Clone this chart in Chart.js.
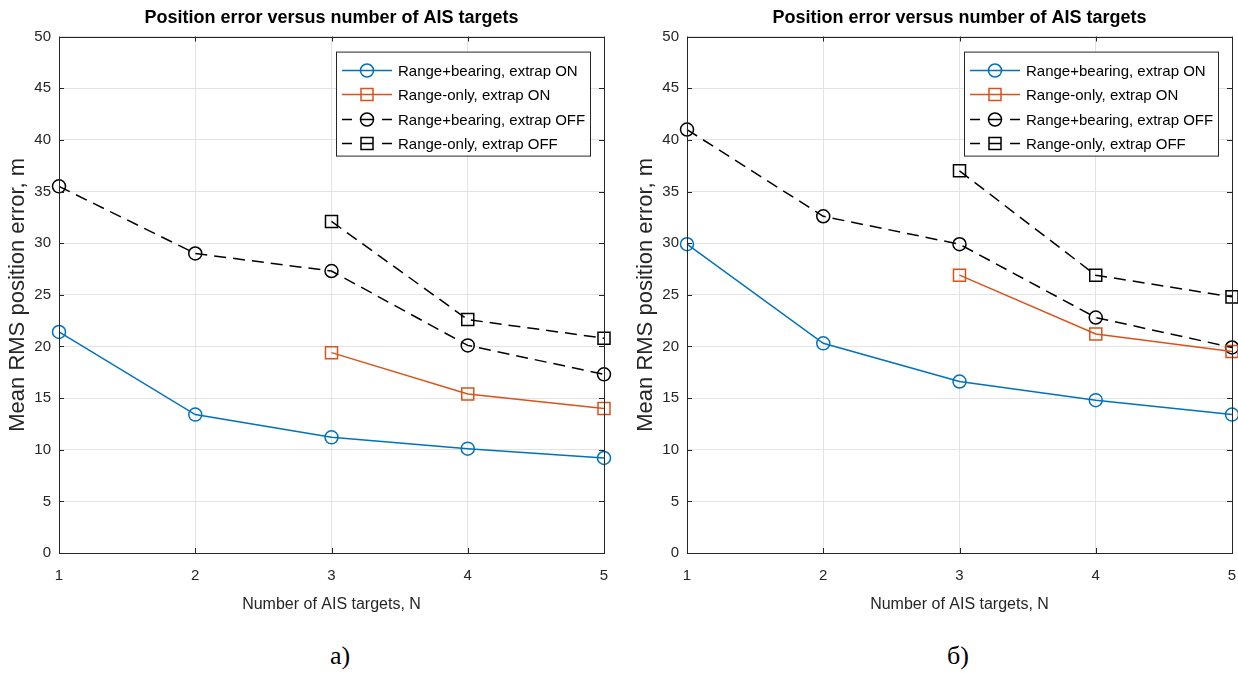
<!DOCTYPE html>
<html>
<head>
<meta charset="utf-8">
<script src="https://cdn.jsdelivr.net/npm/chart.js@4.4.1/dist/chart.umd.min.js"></script>
<style>
  html, body { margin: 0; padding: 0; background: #fff; }
  body { width: 1238px; height: 673px; position: relative; overflow: hidden; }
  .panel { position: absolute; top: 0; height: 630px; }
  .caption { position: absolute; top: 641px; font-family: "Liberation Serif", "Times New Roman", serif; font-size: 26px; color: #000; transform: translateX(-50%); }
</style>
</head>
<body>
<div class="panel" style="left:0; width:620px;"><canvas id="chartA"></canvas></div>
<div class="panel" style="left:628px; width:614px;"><canvas id="chartB"></canvas></div>
<div class="caption" style="left:340px;">a)</div>
<div class="caption" style="left:958px;">б)</div>
<script>
const nTargets = [1, 2, 3, 4, 5];
const seriesNames = [
  "Range+bearing, extrap ON",
  "Range-only, extrap ON",
  "Range+bearing, extrap OFF",
  "Range-only, extrap OFF"
];
const chartTitle = "Position error versus number of AIS targets";
const xTitle = "Number of AIS targets, N";
const yTitle = "Mean RMS position error, m";

// panel a)
const aRbOn  = [21.4, 13.4, 11.2, 10.1, 9.2];
const aRoOn  = [null, null, 19.4, 15.4, 14.0];
const aRbOff = [35.5, 29.0, 27.3, 20.1, 17.3];
const aRoOff = [null, null, 32.1, 22.6, 20.8];

// panel б)
const bRbOn  = [29.9, 20.3, 16.6, 14.8, 13.4];
const bRoOn  = [null, null, 26.9, 21.2, 19.5];
const bRbOff = [41.0, 32.6, 29.9, 22.8, 19.9];
const bRoOff = [null, null, 37.0, 26.9, 24.8];

const FONT = '"Liberation Sans Narrow", "Arial Narrow", "Liberation Sans", Arial, sans-serif';
const BLUE = "#0072BD";
const ORANGE = "#D95319";
const BLACK = "#000000";
const DASH = [12, 7];

const styles = [
  { color: BLUE,   dash: [],   marker: "circle" },
  { color: ORANGE, dash: [],   marker: "rect" },
  { color: BLACK,  dash: DASH, marker: "circle" },
  { color: BLACK,  dash: DASH, marker: "rect" }
];

function markerRadius(m) { return m === "circle" ? 6.5 : 8.5; }

// frame with inward ticks, like MATLAB axes
const framePlugin = {
  id: "frame",
  afterDatasetsDraw(chart) {
    const { ctx, chartArea: a, scales } = chart;
    ctx.save();
    ctx.strokeStyle = "#262626";
    ctx.lineWidth = 1;
    ctx.beginPath();
    scales.y.ticks.forEach(t => {
      const py = Math.round(scales.y.getPixelForValue(t.value)) + 0.5;
      ctx.moveTo(a.left, py); ctx.lineTo(a.left + 5, py);
      ctx.moveTo(a.right, py); ctx.lineTo(a.right - 5, py);
    });
    scales.x.ticks.forEach(t => {
      const px = Math.round(scales.x.getPixelForValue(t.value)) + 0.5;
      ctx.moveTo(px, a.bottom); ctx.lineTo(px, a.bottom - 5);
      ctx.moveTo(px, a.top); ctx.lineTo(px, a.top + 5);
    });
    ctx.stroke();
    ctx.strokeRect(Math.round(a.left) + 0.5, Math.round(a.top) + 0.5,
      Math.round(a.right - a.left), Math.round(a.bottom - a.top));
    ctx.restore();
  }
};

// MATLAB-style legend box (line + marker + label)
const legendPlugin = {
  id: "matLegend",
  afterDraw(chart) {
    const { ctx, chartArea: a } = chart;
    const w = 254, h = 104;
    const x0 = a.right - 14 - w, y0 = a.top + 15;
    ctx.save();
    ctx.fillStyle = "#fff";
    ctx.fillRect(x0, y0, w, h);
    ctx.strokeStyle = "#262626";
    ctx.lineWidth = 1;
    ctx.strokeRect(x0 + 0.5, y0 + 0.5, w, h);
    chart.data.datasets.forEach((ds, i) => {
      const st = styles[i];
      const cy = Math.round(y0 + 18 + i * 24.5) + 0.5;
      ctx.strokeStyle = st.color;
      ctx.lineWidth = 1.5;
      ctx.setLineDash([]);
      ctx.beginPath();
      if (st.dash.length) {
        ctx.moveTo(x0 + 6, cy); ctx.lineTo(x0 + 16, cy);
        ctx.moveTo(x0 + 25, cy); ctx.lineTo(x0 + 37, cy);
        ctx.moveTo(x0 + 46, cy); ctx.lineTo(x0 + 56, cy);
      } else {
        ctx.moveTo(x0 + 6, cy); ctx.lineTo(x0 + 56, cy);
      }
      ctx.stroke();
      ctx.fillStyle = "rgba(0,0,0,0)";
      Chart.helpers.drawPoint(ctx, {
        pointStyle: st.marker, radius: markerRadius(st.marker), borderWidth: 1.5
      }, x0 + 31, cy);
      ctx.fillStyle = "#000";
      ctx.font = "15px " + FONT;
      ctx.textBaseline = "middle";
      ctx.fillText(ds.label, x0 + 62, cy + 1);
    });
    ctx.restore();
  }
};

function makeChart(id, seriesList, rightPad) {
  const datasets = seriesList.map((vals, i) => ({
    label: seriesNames[i],
    data: nTargets.map((n, k) => ({ x: n, y: vals[k] })),
    borderColor: styles[i].color,
    borderWidth: 1.5,
    borderDash: styles[i].dash,
    pointStyle: styles[i].marker,
    pointRadius: markerRadius(styles[i].marker),
    pointBorderWidth: 1.5,
    pointBorderColor: styles[i].color,
    pointBackgroundColor: "rgba(0,0,0,0)",
    tension: 0,
    clip: false
  }));

  return new Chart(document.getElementById(id), {
    type: "line",
    data: { datasets },
    options: {
      responsive: true,
      maintainAspectRatio: false,
      animation: false,
      layout: { padding: { left: 0, right: rightPad, top: 0, bottom: 0 } },
      plugins: {
        legend: { display: false },
        tooltip: { enabled: false },
        title: {
          display: true,
          text: chartTitle,
          fullSize: false,
          color: "#000",
          font: { family: FONT, size: 18, weight: "bold" },
          padding: { top: 7, bottom: 8 }
        }
      },
      scales: {
        x: {
          type: "linear",
          min: 1, max: 5,
          afterFit: s => { s.height = 77; },
          grid: { color: "#e3e3e3", drawTicks: true, tickLength: 13, tickColor: "rgba(0,0,0,0)" },
          border: { display: false },
          ticks: { stepSize: 1, padding: 1, color: "#262626", font: { family: FONT, size: 15 } },
          title: {
            display: true, text: xTitle, color: "#262626",
            font: { family: FONT, size: 16 }, padding: { top: 0, bottom: 16 }
          }
        },
        y: {
          min: 0, max: 50,
          afterFit: s => { s.width = 59; },
          grid: { color: "#e3e3e3", drawTicks: true, tickLength: 7, tickColor: "rgba(0,0,0,0)" },
          border: { display: false },
          ticks: { stepSize: 5, padding: 1, color: "#262626", font: { family: FONT, size: 15 } },
          title: {
            display: true, text: yTitle, color: "#262626",
            font: { family: FONT, size: 22 }, padding: { top: 5, bottom: 0 }
          }
        }
      }
    },
    plugins: [framePlugin, legendPlugin]
  });
}

makeChart("chartA", [aRbOn, aRoOn, aRbOff, aRoOff], 16);
makeChart("chartB", [bRbOn, bRoOn, bRbOff, bRoOff], 6);
</script>
</body>
</html>
